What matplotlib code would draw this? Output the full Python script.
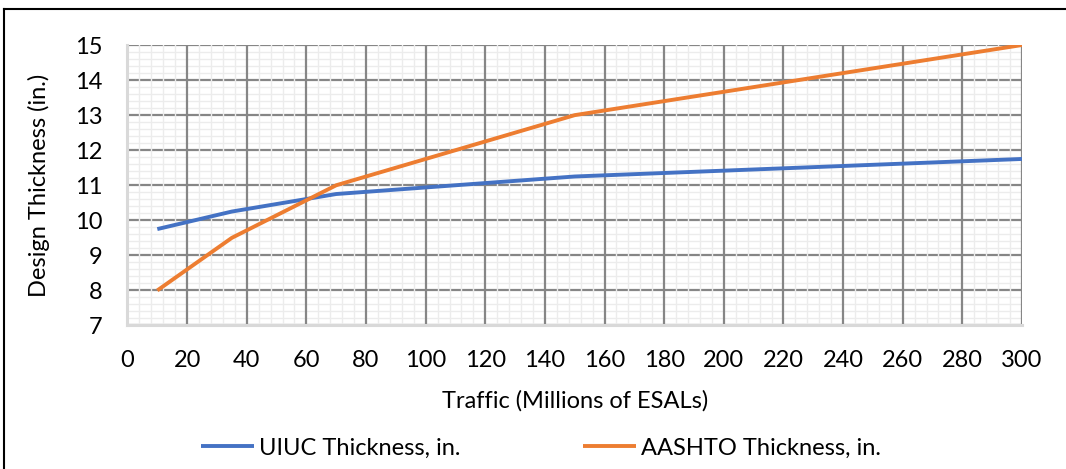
import numpy as np
import matplotlib
matplotlib.use("Agg")
import matplotlib.pyplot as plt
from matplotlib.lines import Line2D
from matplotlib.ticker import MultipleLocator

# data
traffic = [10, 35, 70, 150, 300]
uiuc_thickness = [9.75, 10.25, 10.75, 11.25, 11.75]
aashto_thickness = [8.0, 9.5, 11.0, 13.0, 15.0]

series_labels = ["UIUC Thickness, in.", "AASHTO Thickness, in."]
series_colors = ["#4472C4", "#ED7D31"]

plt.rcParams['font.family'] = ['Lato', 'DejaVu Sans']
FS = 17

fig = plt.figure(figsize=(10.66, 4.69), dpi=100)
ax = fig.add_axes([0.1196, 0.306, 0.8391, 0.598])

for y, lab, col in zip([uiuc_thickness, aashto_thickness], series_labels, series_colors):
    ax.plot(traffic, y, color=col, lw=2.8, label=lab, solid_capstyle='butt', zorder=3)

ax.set_xlim(0, 300)
ax.set_ylim(7, 15)
ax.xaxis.set_major_locator(MultipleLocator(20))
ax.xaxis.set_minor_locator(MultipleLocator(4))
ax.yaxis.set_major_locator(MultipleLocator(1))
ax.yaxis.set_minor_locator(MultipleLocator(0.2))

ax.set_axisbelow(True)
# vertical grid lines sit on top of the horizontal ones
ax.yaxis.set_zorder(0.4)
ax.grid(which='minor', color='#ececec', lw=1.0)
ax.grid(which='major', color='#868686', lw=1.6)

ax.tick_params(which='both', length=0, labelsize=FS, colors='black')
ax.tick_params(axis='x', pad=18)
ax.tick_params(axis='y', pad=18)

for s in ['top', 'right']:
    ax.spines[s].set_visible(False)
for s in ['left', 'bottom']:
    ax.spines[s].set_color('#d9d9d9')
    ax.spines[s].set_linewidth(2.2)

ax.set_xlabel("Traffic (Millions of ESALs)", fontsize=FS)
ax.set_ylabel("Design Thickness (in.)", fontsize=FS)
ax.xaxis.set_label_coords(0.5, -0.232)
ax.yaxis.set_label_coords(-0.087, 0.5)

fig.legend(loc='center', bbox_to_anchor=(0.5075, 0.045), ncol=2, frameon=False,
           fontsize=FS, handlelength=2.25, handletextpad=0.21, columnspacing=5.2)

# outer frame (left and top edges only, as in the reference crop)
fig.add_artist(Line2D([0.004, 0.004], [0.0, 0.981], transform=fig.transFigure, color='black', lw=1.5))
fig.add_artist(Line2D([0.004, 1.0], [0.981, 0.981], transform=fig.transFigure, color='black', lw=1.5))

fig.savefig("out.png", dpi=100)
